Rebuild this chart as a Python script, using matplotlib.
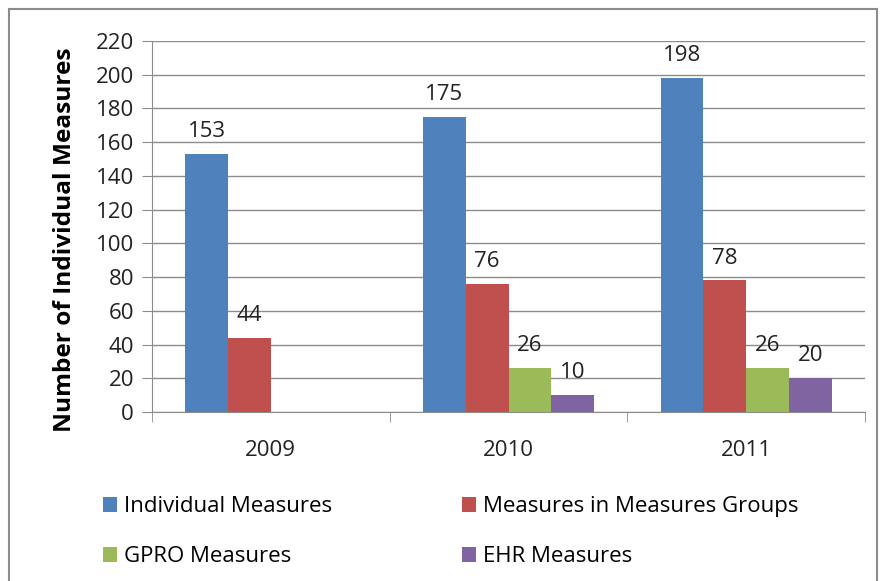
import matplotlib.pyplot as plt
import numpy as np
from matplotlib.patches import Rectangle

years = ["2009", "2010", "2011"]
series = ["Individual Measures", "Measures in Measures Groups", "GPRO Measures", "EHR Measures"]
individual = [153, 175, 198]
groups = [44, 76, 78]
gpro = [0, 26, 26]
ehr = [0, 10, 20]
colors = ["#4F81BD", "#C0504D", "#9BBB59", "#8064A2"]

plt.rcParams['font.family'] = ['Open Sans', 'DejaVu Sans']

fig = plt.figure(figsize=(8.83, 5.81), dpi=100)
ax = fig.add_axes([152 / 883, 1 - 412 / 581, (865 - 152) / 883, (412 - 41) / 581])

# outer chart border
fig.patches.append(Rectangle((9 / 883, -0.01), 868 / 883, 1 - 9 / 581 + 0.01,
                             transform=fig.transFigure, fill=False,
                             edgecolor="#8c8c8c", linewidth=1.5))

x = np.arange(len(years))
w = 0.18
data = [individual, groups, gpro, ehr]
bars = []
for i, (vals, name, c) in enumerate(zip(data, series, colors)):
    pos = x + (i - 1.5) * w
    bars.append(ax.bar(pos, vals, width=w, color=c, label=name, zorder=3))
    for p, v in zip(pos, vals):
        if v > 0:
            ax.text(p, v + 7, str(v), ha="center", va="bottom", fontsize=16, color="#222222")

ax.set_xlim(-0.5, 2.5)
ax.set_ylim(0, 220)
ax.set_yticks(range(0, 221, 20))
ax.yaxis.grid(True, color="#8c8c8c", linewidth=1)
ax.set_axisbelow(True)

ax.set_xticks(x)
ax.set_xticklabels(years, fontsize=16, color="#222222")
ax.set_xticks([-0.5, 0.5, 1.5, 2.5], minor=True)
ax.tick_params(axis="x", which="major", length=0, pad=20)
ax.tick_params(axis="x", which="minor", length=7, color="#8c8c8c", direction="out")
ax.tick_params(axis="y", length=7, color="#8c8c8c", labelsize=16, labelcolor="#222222", pad=6)

for s in ["top", "right"]:
    ax.spines[s].set_visible(False)
for s in ["left", "bottom"]:
    ax.spines[s].set_color("#8c8c8c")

ax.set_ylabel("Number of Individual Measures", fontsize=17.6, fontweight="bold")
ax.yaxis.set_label_coords(-0.105, 0.464)

# legend laid out row by row like the original
order = [0, 2, 1, 3]
fig.legend([bars[i] for i in order], [series[i] for i in order],
           loc="upper left", bbox_to_anchor=(83 / 883, 1 - 476 / 581), ncol=2,
           frameon=False, fontsize=16, handlelength=0.65, handleheight=0.65,
           handletextpad=0.3, columnspacing=5.83, labelspacing=1.3)

fig.savefig("out.png", dpi=100)
